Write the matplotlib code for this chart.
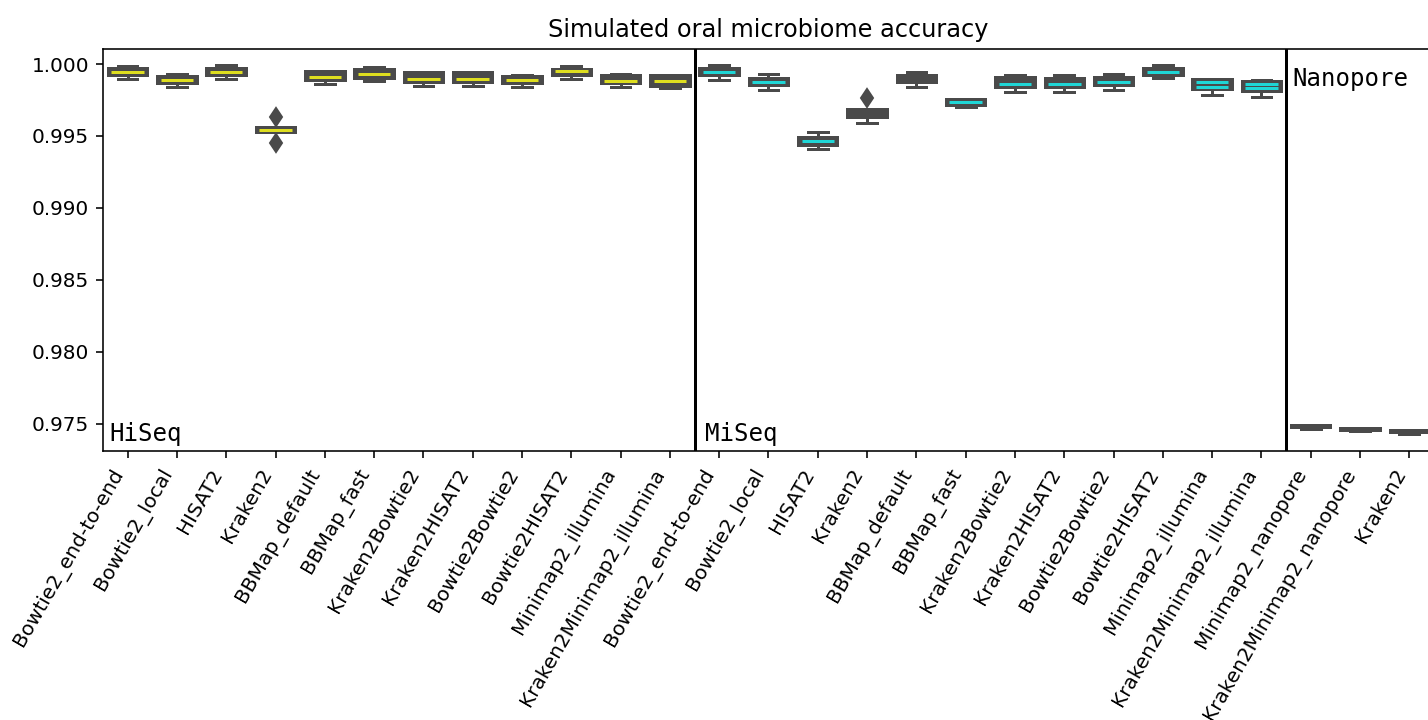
import matplotlib
matplotlib.use("Agg")
import matplotlib.pyplot as plt
from matplotlib.ticker import FormatStrFormatter

# ---- summary statistics per method (accuracy) ----
hiseq_methods = ["Bowtie2_end-to-end", "Bowtie2_local", "HISAT2", "Kraken2",
                 "BBMap_default", "BBMap_fast", "Kraken2Bowtie2", "Kraken2HISAT2",
                 "Bowtie2Bowtie2", "Bowtie2HISAT2", "Minimap2_illumina",
                 "Kraken2Minimap2_illumina"]
hiseq_whislo = [0.99896, 0.99837, 0.99899, 0.99528, 0.99861, 0.99882, 0.99847, 0.99847,
                0.99837, 0.99899, 0.99840, 0.99833]
hiseq_q1 = [0.99924, 0.99868, 0.99924, 0.99526, 0.99889, 0.99903, 0.99873, 0.99873,
            0.99866, 0.99926, 0.99866, 0.99847]
hiseq_med = [0.99947, 0.99889, 0.99944, 0.99542, 0.99910, 0.99928, 0.99898, 0.99896,
             0.99889, 0.99951, 0.99884, 0.99882]
hiseq_q3 = [0.99974, 0.99917, 0.99974, 0.99563, 0.99951, 0.99965, 0.99941, 0.99941,
            0.99917, 0.99967, 0.99922, 0.99922]
hiseq_whishi = [0.99983, 0.99931, 0.99990, 0.99560, 0.99951, 0.99976, 0.99944, 0.99944,
                0.99927, 0.99983, 0.99934, 0.99927]
hiseq_fliers = [[], [], [], [0.99634, 0.99453], [], [], [], [], [], [], [], []]

miseq_methods = list(hiseq_methods)
miseq_whislo = [0.99892, 0.99816, 0.99410, 0.99590, 0.99837, 0.99698, 0.99806, 0.99806,
                0.99816, 0.99903, 0.99788, 0.99774]
miseq_q1 = [0.99926, 0.99856, 0.99438, 0.99632, 0.99873, 0.99712, 0.99838, 0.99838,
            0.99854, 0.99924, 0.99826, 0.99815]
miseq_med = [0.99947, 0.99877, 0.99465, 0.99685, 0.99927, 0.99734, 0.99859, 0.99859,
             0.99873, 0.99944, 0.99873, 0.99861]
miseq_q3 = [0.99974, 0.99905, 0.99493, 0.99685, 0.99927, 0.99759, 0.99910, 0.99901,
            0.99910, 0.99974, 0.99894, 0.99882]
miseq_whishi = [0.99990, 0.99931, 0.99531, 0.99688, 0.99944, 0.99759, 0.99927, 0.99924,
                0.99934, 0.99990, 0.99899, 0.99889]
miseq_fliers = [[], [], [], [0.99762], [], [], [], [], [], [], [], []]
miseq_means = [None, None, None, None, None, None, None, None, None, None, 0.99842, 0.99831]

nanopore_methods = ["Minimap2_nanopore", "Kraken2Minimap2_nanopore", "Kraken2"]
nanopore_whislo = [0.97467, 0.97448, 0.97427]
nanopore_q1 = [0.97477, 0.97458, 0.97441]
nanopore_med = [0.97493, 0.97474, 0.97456]
nanopore_q3 = [0.97493, 0.97474, 0.97456]
nanopore_whishi = [0.97493, 0.97474, 0.97456]
nanopore_fliers = [[], [], []]

platforms = ["HiSeq", "MiSeq", "Nanopore"]
platform_colors = ["#dede1f", "#1fd6d6", "#4a4a4a"]

BOX_GRAY = "#4a4a4a"


def make_stats(names, lo, q1, med, q3, hi, fl):
    return [dict(label=n, whislo=a, q1=b, med=c, q3=d, whishi=e, fliers=f)
            for n, a, b, c, d, e, f in zip(names, lo, q1, med, q3, hi, fl)]


groups = [
    make_stats(hiseq_methods, hiseq_whislo, hiseq_q1, hiseq_med, hiseq_q3,
               hiseq_whishi, hiseq_fliers),
    make_stats(miseq_methods, miseq_whislo, miseq_q1, miseq_med, miseq_q3,
               miseq_whishi, miseq_fliers),
    make_stats(nanopore_methods, nanopore_whislo, nanopore_q1, nanopore_med,
               nanopore_q3, nanopore_whishi, nanopore_fliers),
]
# medians that coincide with a box edge disappear into the outline
hidden_medians = {(1, 3), (1, 4)}

fig = plt.figure(figsize=(1428 / 144, 720 / 144), dpi=144)
ax = fig.add_axes([0.0721, 0.3732, 0.9321, 0.5583])

width = 0.8
start = 0
all_labels = []
for gi, stats in enumerate(groups):
    pos = list(range(start, start + len(stats)))
    art = ax.bxp(stats, positions=pos, widths=width, patch_artist=True,
                 showfliers=True, manage_ticks=False,
                 boxprops=dict(facecolor=BOX_GRAY, edgecolor=BOX_GRAY, linewidth=1.5),
                 whiskerprops=dict(color=BOX_GRAY, linewidth=1.5),
                 capprops=dict(color=BOX_GRAY, linewidth=1.5),
                 medianprops=dict(color=platform_colors[gi], linewidth=1.5,
                                  solid_capstyle="butt"),
                 flierprops=dict(marker="d", markerfacecolor=BOX_GRAY,
                                 markeredgecolor=BOX_GRAY, markersize=6.5))
    for k, line in enumerate(art["medians"]):
        x = pos[k]
        line.set_xdata([x - width / 2 + 0.07, x + width / 2 - 0.07])
        line.set_zorder(3)
        if (gi, k) in hidden_medians:
            line.set_color(BOX_GRAY)
    if gi == 1:
        for k, m in enumerate(miseq_means):
            if m is not None:
                ax.hlines(m, pos[k] - width / 2 + 0.07, pos[k] + width / 2 - 0.07,
                          colors=platform_colors[gi], linewidth=1.5, zorder=3)
    all_labels += [s["label"] for s in stats]
    start += len(stats)

# panel separators
ax.axvline(11.5, color="black", linewidth=1.5)
ax.axvline(23.5, color="black", linewidth=1.5)

ax.set_xlim(-0.5, 26.5)
ax.set_ylim(0.97310, 1.00102)
ax.set_yticks([0.975, 0.980, 0.985, 0.990, 0.995, 1.000])
ax.yaxis.set_major_formatter(FormatStrFormatter("%.3f"))
ax.set_xticks(range(len(all_labels)))
ax.set_xticklabels(all_labels, rotation=60, ha="right")
ax.set_title("Simulated oral microbiome accuracy")

trans = ax.get_xaxis_transform()
mono = dict(family="DejaVu Sans Mono", fontsize=12)
ax.text(-0.36, 0.025, platforms[0], transform=trans, va="baseline", ha="left", **mono)
ax.text(11.71, 0.025, platforms[1], transform=trans, va="baseline", ha="left", **mono)
ax.text(23.62, 0.909, platforms[2], transform=trans, va="baseline", ha="left", **mono)

fig.savefig("out.png", dpi=144)
